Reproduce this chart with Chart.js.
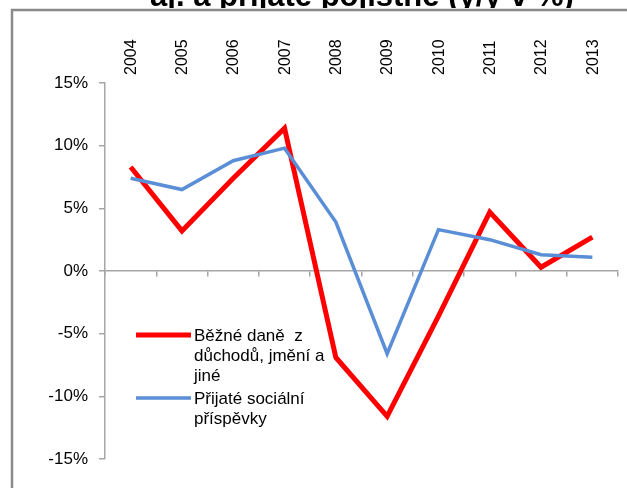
<!DOCTYPE html>
<html>
<head>
<meta charset="utf-8">
<script src="https://cdn.jsdelivr.net/npm/chart.js@4.4.0/dist/chart.umd.min.js"></script>
<style>
  body { margin: 0; background: #fff; }
  #wrap { width: 627px; height: 488px; position: relative; }
</style>
</head>
<body>
<div id="wrap"><canvas id="chart"></canvas></div>
<script>
const years = ['2004', '2005', '2006', '2007', '2008', '2009', '2010', '2011', '2012', '2013'];
const taxes = [8.3, 3.2, 7.4, 11.4, -6.9, -11.6, -3.6, 4.7, 0.3, 2.7];
const contributions = [7.4, 6.5, 8.8, 9.8, 3.9, -6.6, 3.3, 2.5, 1.3, 1.1];
const yTicks = [-15, -10, -5, 0, 5, 10, 15];
const taxesLabel = ['Běžné daně  z', 'důchodů, jmění a', 'jiné'];
const contribLabel = ['Přijaté sociální', 'příspěvky'];
const titleText = 'aj. a přijaté pojistné (y/y v %)';

const RED = '#ff0000';
const BLUE = '#5a8ed6';
const AXIS = '#a6a6a6';
const FONT = "'Liberation Sans', Arial, sans-serif";

const decor = {
  id: 'decor',
  beforeDraw(chart) {
    const ctx = chart.ctx;
    ctx.save();
    ctx.fillStyle = '#fff';
    ctx.fillRect(0, 0, chart.width, chart.height);
    // title, mostly cut off above the frame
    ctx.fillStyle = '#000';
    ctx.font = 'bold 31px ' + FONT;
    ctx.textAlign = 'center';
    ctx.textBaseline = 'alphabetic';
    ctx.fillText(titleText, 362, 6);
    // chart box covers the rest of the title
    ctx.fillStyle = '#fff';
    ctx.fillRect(0, 8, chart.width, chart.height);
    ctx.strokeStyle = '#8a8a8a';
    ctx.lineWidth = 2.5;
    ctx.beginPath();
    ctx.moveTo(12, chart.height);
    ctx.lineTo(12, 10);
    ctx.lineTo(chart.width, 10);
    ctx.stroke();
    ctx.restore();
  },
  afterDraw(chart) {
    const ctx = chart.ctx;
    const items = [
      { color: RED, width: 5, lines: taxesLabel, y: 335 },
      { color: BLUE, width: 3.5, lines: contribLabel, y: 398 }
    ];
    ctx.save();
    ctx.font = '17px ' + FONT;
    ctx.fillStyle = '#000';
    ctx.textAlign = 'left';
    ctx.textBaseline = 'middle';
    items.forEach(it => {
      ctx.strokeStyle = it.color;
      ctx.lineWidth = it.width;
      ctx.beginPath();
      ctx.moveTo(136, it.y);
      ctx.lineTo(191, it.y);
      ctx.stroke();
      it.lines.forEach((t, i) => ctx.fillText(t, 194, it.y + 1 + i * 20));
    });
    ctx.restore();
  }
};

new Chart(document.getElementById('chart'), {
  type: 'line',
  data: {
    labels: years,
    datasets: [
      {
        label: taxesLabel.join(' '),
        data: taxes,
        borderColor: RED,
        borderWidth: 5,
        pointRadius: 0,
        tension: 0,
        order: 1
      },
      {
        label: contribLabel.join(' '),
        data: contributions,
        borderColor: BLUE,
        borderWidth: 3.5,
        pointRadius: 0,
        tension: 0,
        order: 0
      }
    ]
  },
  options: {
    responsive: true,
    maintainAspectRatio: false,
    animation: false,
    layout: { padding: { left: 30, top: 23, right: 9, bottom: 29 } },
    plugins: {
      legend: { display: false },
      tooltip: { enabled: false }
    },
    scales: {
      x: {
        position: 'top',
        offset: true,
        grid: { display: false, drawTicks: false },
        border: { display: false },
        ticks: {
          minRotation: 90,
          maxRotation: 90,
          padding: 8,
          labelOffset: 20,
          color: '#000',
          font: { family: FONT, size: 16 }
        },
        afterFit: s => { s.height = 60; }
      },
      x2: {
        type: 'category',
        labels: years,
        position: { y: 0 },
        offset: true,
        grid: { drawOnChartArea: false, offset: true, tickLength: 5, color: AXIS, lineWidth: 1.5 },
        border: { color: AXIS, width: 1.5 },
        ticks: { callback: () => '' }
      },
      y: {
        min: -15,
        max: 15,
        afterBuildTicks: s => { s.ticks = yTicks.map(v => ({ value: v })); },
        grid: { drawOnChartArea: false, tickLength: 6, color: AXIS, lineWidth: 1.5 },
        border: { color: AXIS, width: 1.5 },
        ticks: {
          padding: 11,
          color: '#000',
          font: { family: FONT, size: 17 },
          callback: v => v + '%'
        },
        afterFit: s => { s.width = 75; }
      }
    }
  },
  plugins: [decor]
});
</script>
</body>
</html>
